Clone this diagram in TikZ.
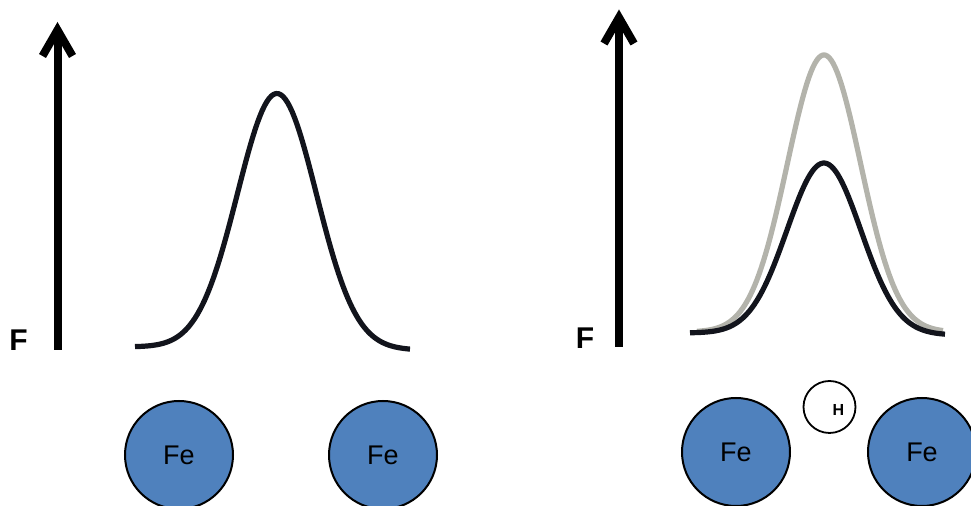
\documentclass[tikz,border=0pt]{standalone}
\usepackage{fontspec}
\setmainfont{Liberation Sans}
\usetikzlibrary{arrows.meta}

\definecolor{feblue}{HTML}{4F81BD}
\definecolor{curvedark}{HTML}{12141C}
\definecolor{curvegrey}{HTML}{B3B3AB}

\begin{document}
\begin{tikzpicture}[x=0.5pt, y=-0.5pt,
  axis/.style={line width=4pt, line cap=butt,
    -{Straight Barb[length=13pt, width=15pt, line join=miter]}},
  flabel/.style={font=\fontsize{15}{18}\selectfont\bfseries, inner sep=0pt},
  curve/.style={line width=2.6pt, curvedark, line join=round},
  fe/.style={circle, draw=black, line width=1pt, fill=feblue,
    minimum size=54pt, inner sep=0pt, font=\fontsize{13.5}{16}\selectfont},
  hatom/.style={circle, draw=black, line width=0.9pt, fill=white,
    minimum size=26pt, inner sep=0pt},
  hlabel/.style={font=\fontsize{8}{9}\selectfont\bfseries, inner sep=0pt}]
\useasboundingbox (0,0) rectangle (971,506);

% left panel: pure iron
\coordinate (baseL) at (57.5,350);
\coordinate (topL) at (57.5,22);
\draw[axis] (baseL) -- (topL);
\node[flabel] (fL) at (18.5,340.5) {F};
\draw[curve] plot[domain=135:410, samples=120]
  ({\x}, {347+3*(\x-135)/275-255*exp(-((\x-277)/39.5)^2/2)});
\node[fe] (fe1) at (179,455) {Fe};
\node[fe] (fe2) at (383,455) {Fe};

% right panel: with hydrogen
\coordinate (baseR) at (619,347);
\coordinate (topR) at (619,9.5);
\draw[axis] (baseR) -- (topR);
\node[flabel] (fR) at (585,338.5) {F};
\draw[curve, curvegrey] plot[domain=697:943, samples=120]
  ({\x}, {332-277*exp(-((\x-824)/36.7)^2/2)});
\draw[curve] plot[domain=690:945, samples=120]
  ({\x}, {333+2*(\x-690)/255-171*exp(-((\x-824)/37)^2/2)});
\node[fe] (fe3) at (736,452) {Fe};
\node[fe] (fe4) at (922,452) {Fe};
\node[hatom] (h) at (829.5,407) {};
\node[hlabel] (hl) at ([shift={(9,3)}]h.center) {H};
\end{tikzpicture}
\end{document}
